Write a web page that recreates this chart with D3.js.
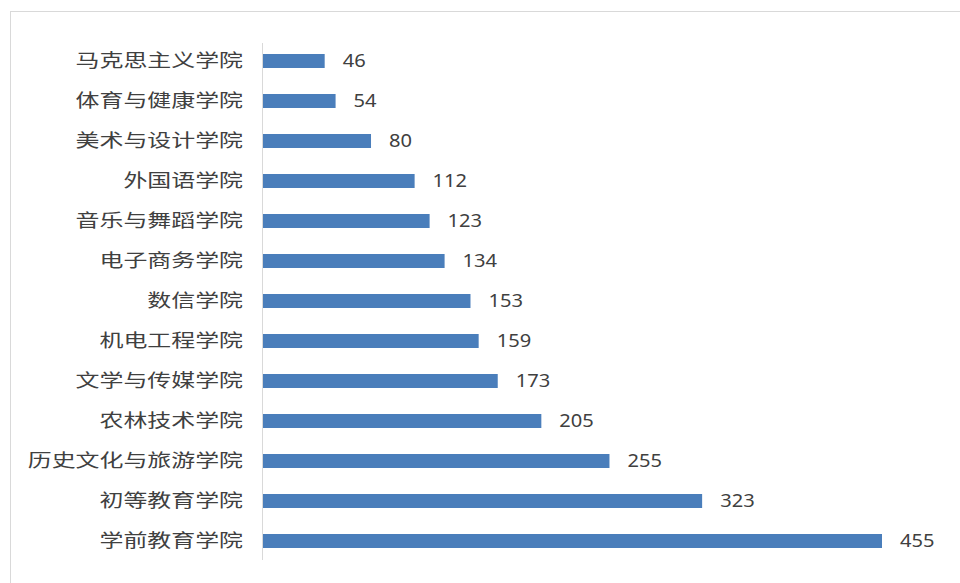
<!DOCTYPE html>
<html><head><meta charset="utf-8">
<script src="https://cdn.jsdelivr.net/npm/d3@7"></script>
<style>html,body{margin:0;padding:0;background:#fff;}</style>
</head><body>
<svg id="chart" width="960" height="583"></svg>
<script>
const categories = ["马克思主义学院","体育与健康学院","美术与设计学院","外国语学院","音乐与舞蹈学院","电子商务学院","数信学院","机电工程学院","文学与传媒学院","农林技术学院","历史文化与旅游学院","初等教育学院","学前教育学院"];
const values = [46,54,80,112,123,134,153,159,173,205,255,323,455];

const svg = d3.select("#chart");
svg.append("rect").attr("x",10.5).attr("y",11.5).attr("width",960).attr("height",600)
  .attr("fill","#fff").attr("stroke","#d9d9d9").attr("stroke-width",1);

const x = d3.scaleLinear().domain([0,455]).range([262,882]);
const y = d3.scaleBand().domain(categories).range([41,561]).paddingInner(0.65).paddingOuter(0.325);

svg.selectAll("rect.bar").data(values).join("rect").attr("class","bar")
  .attr("x",x(0)).attr("y",(d,i)=>y(categories[i]))
  .attr("width",d=>x(d)-x(0)).attr("height",y.bandwidth())
  .attr("fill","#4a7ebb");

const axis = svg.append("g").attr("transform",`translate(${x(0)},0)`)
  .call(d3.axisLeft(y).tickSize(0).tickPadding(0).tickFormat(()=>""));
axis.select(".domain").attr("stroke","#d9d9d9").attr("d",`M0.5,${y.range()[0]+2}V${y.range()[1]-1}`);

svg.selectAll("text.cat").data(categories).join("text").attr("class","cat")
  .attr("transform",d=>`translate(${x(0)-19},${y(d)+y.bandwidth()/2}) scale(1.33,1)`)
  .attr("text-anchor","end").attr("dy","0.36em")
  .attr("font-family","'Noto Sans CJK SC'").attr("font-size",18).attr("fill","#404040")
  .text(d=>d);

svg.selectAll("text.val").data(values).join("text").attr("class","val")
  .attr("transform",(d,i)=>`translate(${x(d)+18},${y(categories[i])+y.bandwidth()/2}) scale(1.15,1)`)
  .attr("dy","0.36em")
  .attr("font-family","'Noto Sans'").attr("font-size",17.5).attr("fill","#404040")
  .text(d=>d);
</script>
</body></html>
